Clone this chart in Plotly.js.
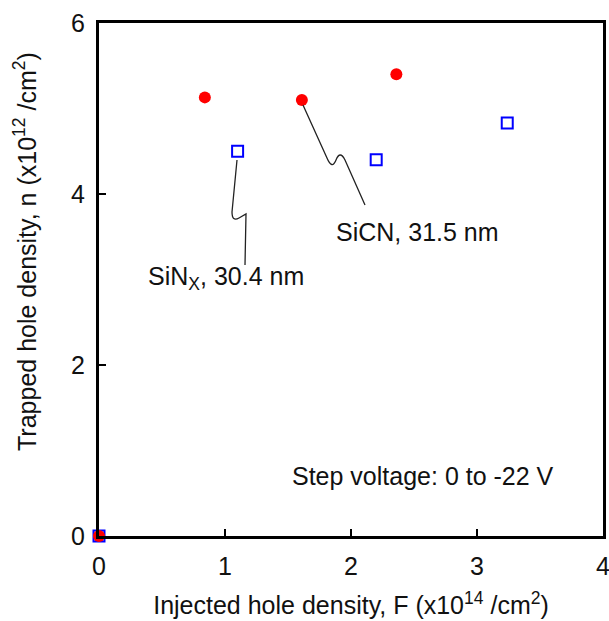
<!DOCTYPE html>
<html>
<head>
<meta charset="utf-8">
<script src="https://cdn.plot.ly/plotly-3.0.1.min.js"></script>
<style>html,body{margin:0;padding:0;background:#fff;}#chart{width:609px;height:621px;}</style>
</head>
<body>
<div id="chart"></div>
<script>
// Data
var sinxF = [0, 1.10, 2.20, 3.24];
var sinxN = [0, 4.50, 4.40, 4.83];
var sicnF = [0, 0.84, 1.61, 2.36];
var sicnN = [0, 5.13, 5.10, 5.40];
var xTicks = [0, 1, 2, 3, 4];
var yTicks = [0, 2, 4, 6];

var FONT = 'Liberation Sans, Arial, sans-serif';
var FS = 25;

var traces = [
  {x: sinxF, y: sinxN, type: 'scatter', mode: 'markers', name: 'SiNx',
   cliponaxis: false,
   marker: {symbol: 'square-open', size: 11, color: '#0000ff', line: {width: 2, color: '#0000ff'}}},
  {x: sicnF, y: sicnN, type: 'scatter', mode: 'markers', name: 'SiCN',
   cliponaxis: false,
   marker: {symbol: 'circle', size: 12, color: '#ff0000', line: {width: 0}}}
];

// leader-line helpers: pixel geometry of the plot box
var L = 99, R = 603, T = 23, B = 536;
function px(x){ return (x - L) / (R - L) * 4; }
function py(y){ return (B - y) / (B - T) * 6; }
function pt(a){ return px(a[0]).toFixed(4) + ',' + py(a[1]).toFixed(4); }

var sinxPath = 'M' + pt([237,160]) + ' L' + pt([232,212]) + ' Q' + pt([232,222]) + ' ' + pt([239,218]) +
               ' L' + pt([246,214]) + ' L' + pt([245,265]);
var sicnPath = 'M' + pt([303,105]) + ' L' + pt([327,158]) + ' Q' + pt([332,170]) + ' ' + pt([336,160]) +
               ' Q' + pt([340,150]) + ' ' + pt([345,160]) + ' L' + pt([365,205]);

var layout = {
  width: 609, height: 621,
  margin: {l: 99, r: 6, t: 23, b: 85},
  paper_bgcolor: '#fff', plot_bgcolor: '#fff',
  showlegend: false,
  font: {family: FONT, size: FS, color: '#111'},
  xaxis: {
    range: [0, 4], tickvals: xTicks, ticktext: xTicks.map(String),
    showgrid: false, zeroline: false,
    showline: true, linecolor: '#000', linewidth: 3, mirror: true,
    ticks: 'inside', ticklen: 7, tickwidth: 2, tickcolor: '#000',
    tickfont: {family: FONT, size: FS, color: '#111'},
    ticklabelstandoff: 6, ticklabeloverflow: 'allow',
    title: {text: 'Injected hole density, F (x10<sup>14</sup> /cm<sup>2</sup>)',
            font: {family: FONT, size: FS, color: '#111'}, standoff: 18}
  },
  yaxis: {
    range: [0, 6], tickvals: yTicks, ticktext: yTicks.map(String),
    showgrid: false, zeroline: false,
    showline: true, linecolor: '#000', linewidth: 3, mirror: true,
    ticks: 'inside', ticklen: 7, tickwidth: 2, tickcolor: '#000',
    tickfont: {family: FONT, size: FS, color: '#111'},
    ticklabelstandoff: 6, ticklabeloverflow: 'allow'
  },
  shapes: [
    {type: 'path', xref: 'x', yref: 'y', path: sinxPath, line: {color: '#222', width: 1.3}},
    {type: 'path', xref: 'x', yref: 'y', path: sicnPath, line: {color: '#222', width: 1.3}}
  ],
  annotations: [
    {xref: 'paper', yref: 'paper', x: (25 - L) / (R - L), y: (B - 252) / (B - T),
     text: 'Trapped hole density, n (x10<sup>12</sup> /cm<sup>2</sup>)', textangle: -90,
     showarrow: false, xanchor: 'center', yanchor: 'middle',
     font: {family: FONT, size: FS, color: '#111'}},
    {xref: 'x', yref: 'y', x: px(226), y: py(278), text: 'SiN<sub>X</sub>, 30.4 nm', showarrow: false,
     font: {family: FONT, size: FS, color: '#111'}},
    {xref: 'x', yref: 'y', x: px(417), y: py(232), text: 'SiCN, 31.5 nm', showarrow: false,
     font: {family: FONT, size: FS, color: '#111'}},
    {xref: 'x', yref: 'y', x: px(423), y: py(476), text: 'Step voltage: 0 to -22 V', showarrow: false,
     font: {family: FONT, size: FS, color: '#111'}}
  ]
};

Plotly.newPlot('chart', traces, layout, {displayModeBar: false, staticPlot: true});
</script>
</body>
</html>
